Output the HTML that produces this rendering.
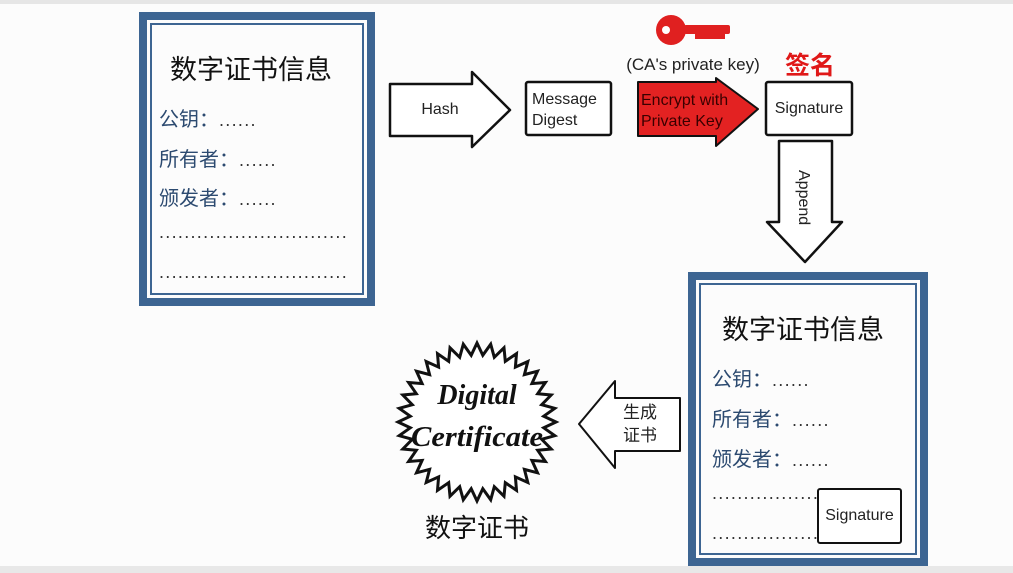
<!DOCTYPE html>
<html><head><meta charset="utf-8"><style>
body{margin:0;width:1013px;height:573px;background:#fcfcfc;overflow:hidden;position:relative;font-family:"Liberation Sans","Noto Sans CJK SC",sans-serif}
.cert{position:absolute;border:8px solid #3d6592;box-sizing:border-box}
.cert .in{position:absolute;left:3px;top:3px;right:3px;bottom:3px;border:2px solid #3d6592}
.t{position:absolute;white-space:nowrap}
.title{font-size:27px;color:#111}
.f{font-size:20px;color:#2c4a70}
.d{font-size:18px;color:#333;letter-spacing:1.3px}
</style></head><body>
<div style="position:absolute;left:0;top:0;width:1013px;height:4px;background:#e6e6e6"></div>
<div style="position:absolute;left:0;top:566px;width:1013px;height:7px;background:#e8e8e8"></div>

<div class="cert" style="left:139px;top:12px;width:236px;height:294px"><div class="in"></div></div>
<div class="t title" style="left:170px;top:48px">数字证书信息</div>
<div class="t f" style="left:159px;top:103px">公钥：<span class="d">......</span></div>
<div class="t f" style="left:159px;top:143px">所有者：<span class="d">......</span></div>
<div class="t f" style="left:159px;top:182px">颁发者：<span class="d">......</span></div>
<div class="t d" style="left:159px;top:222px">..............................</div>
<div class="t d" style="left:159px;top:262px">..............................</div>

<div class="cert" style="left:688px;top:272px;width:240px;height:294px"><div class="in"></div></div>
<div class="t title" style="left:722px;top:308px">数字证书信息</div>
<div class="t f" style="left:712px;top:363px">公钥：<span class="d">......</span></div>
<div class="t f" style="left:712px;top:403px">所有者：<span class="d">......</span></div>
<div class="t f" style="left:712px;top:443px">颁发者：<span class="d">......</span></div>
<div class="t d" style="left:712px;top:483px">.................</div>
<div class="t d" style="left:712px;top:523px">.................</div>
<div style="position:absolute;left:817px;top:488px;width:85px;height:56px;border:2px solid #111;border-radius:3px;background:#fff;box-sizing:border-box;font-size:16px;display:flex;align-items:center;justify-content:center;color:#222">Signature</div>

<svg width="1013" height="573" style="position:absolute;left:0;top:0">
<polygon points="390,84 472,84 472,72 510,110 472,147 472,136 390,136" fill="#fff" stroke="#111" stroke-width="2.5" stroke-linejoin="round"/>
<text x="440" y="114" font-size="16" text-anchor="middle" font-family="Liberation Sans" fill="#222">Hash</text>
<rect x="526" y="82" width="85" height="53" fill="#fff" stroke="#111" stroke-width="2.5" rx="2"/>
<text x="532" y="104" font-size="16" font-family="Liberation Sans" fill="#222">Message</text>
<text x="532" y="125" font-size="16" font-family="Liberation Sans" fill="#222">Digest</text>
<polygon points="638,82 716,82 716,78 758,109 716,146 716,136 638,136" fill="#e32222" stroke="#111" stroke-width="2" stroke-linejoin="round"/>
<text x="641" y="105" font-size="16" font-family="Liberation Sans" fill="#3a0000">Encrypt with</text>
<text x="641" y="126" font-size="16" font-family="Liberation Sans" fill="#3a0000">Private Key</text>
<rect x="766" y="82" width="86" height="53" fill="#fff" stroke="#111" stroke-width="2.5" rx="2"/>
<text x="809" y="113" font-size="16" text-anchor="middle" font-family="Liberation Sans" fill="#222">Signature</text>
<text x="785" y="74" font-size="25" font-weight="bold" fill="#e01818" font-family="Noto Sans CJK SC,sans-serif">签名</text>
<text x="693" y="70" font-size="17" text-anchor="middle" font-family="Liberation Sans" fill="#222">(CA's private key)</text>
<circle cx="671" cy="30" r="15" fill="#e02020"/>
<circle cx="666" cy="30" r="4" fill="#fff"/>
<rect x="684" y="25" width="46" height="9" fill="#e02020" rx="2"/>
<rect x="695" y="32" width="30" height="7" fill="#e02020"/>
<polygon points="779,141 832,141 832,222 842,222 805,262 767,222 779,222" fill="#fff" stroke="#111" stroke-width="2.5" stroke-linejoin="round"/>
<text transform="translate(799,170) rotate(90)" font-size="16" font-family="Liberation Sans" fill="#222">Append</text>
<polygon points="680,398 615,398 615,381 579,424 615,468 615,451 680,451" fill="#fff" stroke="#111" stroke-width="2" stroke-linejoin="round"/>
<text x="623" y="418" font-size="17" font-family="Noto Sans CJK SC,sans-serif" fill="#222">生成</text>
<text x="623" y="441" font-size="17" font-family="Noto Sans CJK SC,sans-serif" fill="#222">证书</text>
<polygon id="seal" fill="#fff" stroke="#111" stroke-width="3" stroke-linejoin="miter" points=""/>
<text x="477" y="404" font-size="28" font-weight="bold" font-style="italic" text-anchor="middle" font-family="Liberation Serif" fill="#111">Digital</text>
<text x="477" y="446" font-size="28" font-weight="bold" font-style="italic" text-anchor="middle" font-family="Liberation Serif" fill="#111" textLength="132" lengthAdjust="spacingAndGlyphs">Certificate</text>
<text x="477" y="537" font-size="26" text-anchor="middle" font-family="Noto Sans CJK SC,sans-serif" fill="#111">数字证书</text>
</svg>
<script>
var p=[],n=36,cx=477,cy=422;
for(var i=0;i<n*2;i++){var r=i%2?67:79,a=Math.PI*i/n;p.push((cx+r*Math.cos(a)).toFixed(1)+","+(cy+r*Math.sin(a)).toFixed(1));}
document.getElementById("seal").setAttribute("points",p.join(" "));
</script>
</body></html>
